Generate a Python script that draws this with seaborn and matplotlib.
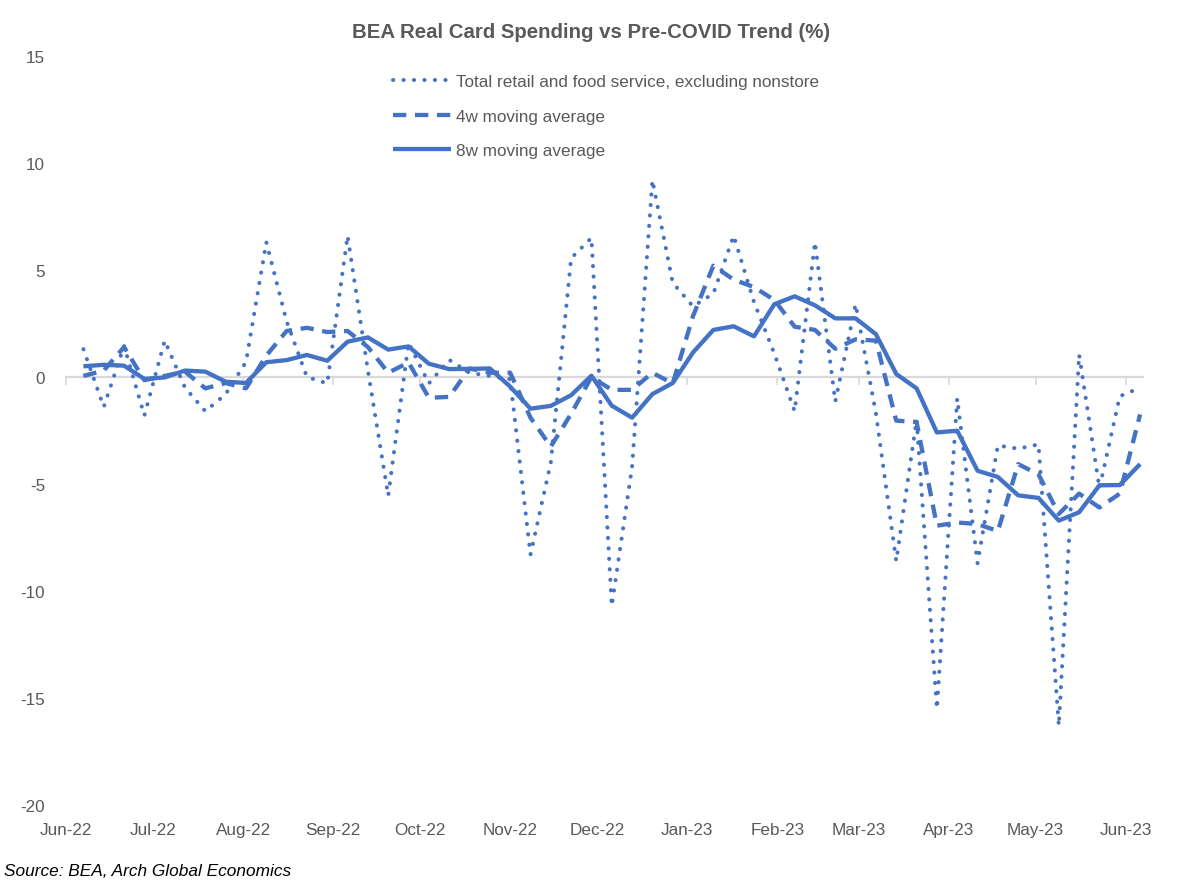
import pandas as pd
import numpy as np
import matplotlib
matplotlib.use("Agg")
import matplotlib.pyplot as plt
import matplotlib.dates as mdates
import seaborn as sns

# weekly observations, Jun-22 .. Jun-23
weeks = pd.date_range("2022-06-07", periods=53, freq="7D")

total_retail = [1.3, -1.4, 1.45, -1.8, 1.7, -0.5, -1.6, -0.8, 0.7, 6.3,
                2.6, 0.0, -0.3, 6.6, 0.3, -5.55, 1.6, -0.3, 0.8, 0.2,
                0.05, -0.1, -8.3, -4.0, 5.55, 6.5, -10.7, -4.2, 9.2, 4.4,
                3.3, 3.9, 6.6, 3.5, 1.1, -1.6, 6.3, -1.15, 3.4, -1.7,
                -8.6, -2.0, -15.5, -1.0, -8.7, -3.2, -3.35, -3.15, -16.3, 1.05,
                -5.2, -0.9, -0.5]

ma_4w = [0.05, 0.3, 1.4, -0.15, 0.05, 0.25, -0.53, -0.28, -0.53, 1.0,
         2.15, 2.3, 2.1, 2.15, 1.4, 0.2, 0.68, -0.97, -0.93, 0.4,
         0.2, 0.2, -1.9, -3.25, -1.72, 0.0, -0.6, -0.6, 0.2, -0.3,
         2.85, 5.2, 4.55, 4.2, 3.6, 2.35, 2.2, 1.32, 1.76, 1.7,
         -2.04, -2.1, -6.95, -6.8, -6.87, -7.2, -4.07, -4.55, -6.4, -5.45,
         -6.1, -5.45, -1.75]

ma_8w = [0.5, 0.57, 0.53, -0.09, -0.02, 0.3, 0.25, -0.22, -0.28, 0.69,
         0.79, 1.03, 0.76, 1.65, 1.85, 1.28, 1.43, 0.62, 0.37, 0.38,
         0.4, -0.45, -1.48, -1.35, -0.85, 0.06, -1.34, -1.9, -0.8, -0.28,
         1.15, 2.2, 2.37, 1.9, 3.4, 3.77, 3.35, 2.74, 2.74, 2.0,
         0.14, -0.53, -2.59, -2.51, -4.38, -4.67, -5.53, -5.65, -6.71, -6.32,
         -5.06, -5.05, -4.07]

series_labels = ["Total retail and food service, excluding nonstore",
                 "4w moving average",
                 "8w moving average"]

month_ticks = pd.date_range("2022-06-01", "2023-06-01", freq="MS")
y_ticks = [-20, -15, -10, -5, 0, 5, 10, 15]

df = pd.DataFrame({"Week": weeks, "Total": total_retail,
                   "MA4": ma_4w, "MA8": ma_8w})

sns.set_theme(style="white")
plt.rcParams["font.family"] = ["Liberation Sans Narrow", "Liberation Sans", "DejaVu Sans"]
plt.rcParams["axes.unicode_minus"] = False

blue = "#4472C4"
grey_text = "#595959"
grey_line = "#D9D9D9"

fig = plt.figure(figsize=(11.82, 8.87), dpi=100)
ax = fig.add_axes([66 / 1182, 1 - 806 / 887, (1143 - 66) / 1182, (806 - 57) / 887])

sns.lineplot(data=df, x="Week", y="Total", ax=ax, color=blue, lw=2.9,
             linestyle=(0, (0.05, 2.55)), dash_capstyle="round", label=series_labels[0])
sns.lineplot(data=df, x="Week", y="MA4", ax=ax, color=blue, lw=3.1,
             linestyle=(0, (3.1, 2.0)), dash_capstyle="butt", label=series_labels[1])
sns.lineplot(data=df, x="Week", y="MA8", ax=ax, color=blue, lw=3.1,
             solid_capstyle="butt", label=series_labels[2])

ax.set_ylim(-20, 15)
ax.set_yticks(y_ticks)
ax.set_xlim(pd.Timestamp("2022-06-01"), pd.Timestamp("2023-06-07"))
ax.set_xticks(month_ticks)
ax.xaxis.set_major_formatter(mdates.DateFormatter("%b-%y"))
ax.tick_params(axis="both", length=0, labelsize=12.3, labelcolor=grey_text)
ax.tick_params(axis="x", pad=12)
ax.tick_params(axis="y", pad=15)
ax.set_xlabel("")
ax.set_ylabel("")
for s in ax.spines.values():
    s.set_visible(False)

# zero line with month tick marks
sec = ax.secondary_xaxis(20 / 35)
sec.set_alignment("bottom")
sec.set_xticks(month_ticks)
sec.set_xticklabels([])
sec.tick_params(direction="out", length=6, width=1.2, color=grey_line)
sec.spines["bottom"].set_color(grey_line)
sec.spines["bottom"].set_linewidth(1.6)

ax.legend(loc="upper left", bbox_to_anchor=(393 / 1182, 1 - 75 / 887),
          bbox_transform=fig.transFigure, frameon=False, fontsize=12.3,
          handlelength=3.4, handletextpad=0.3, labelspacing=1.15,
          borderpad=0, borderaxespad=0, labelcolor=grey_text)

fig.text(0.5, 1 - 32 / 887, "BEA Real Card Spending vs Pre-COVID Trend (%)",
         ha="center", va="center", fontsize=14.7, fontweight="bold", color=grey_text)
fig.text(4 / 1182, 1 - 872 / 887, "Source: BEA, Arch Global Economics",
         ha="left", va="center", fontsize=12.4, style="italic", color="black")

fig.savefig("out.png", dpi=100)
